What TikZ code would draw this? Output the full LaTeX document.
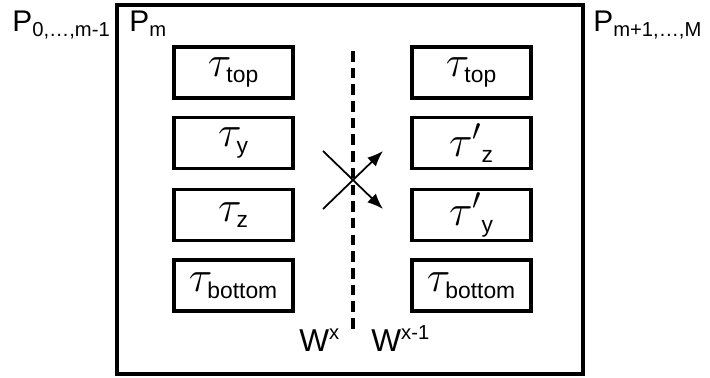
\documentclass[tikz,border=0pt]{standalone}
\usepackage{amsmath}
\usepackage{fontspec}
\setmainfont{Liberation Sans}
\usetikzlibrary{arrows.meta}

\tikzset{
  slot/.style={draw, line width=1.8pt, minimum width=2.38cm, minimum height=1.02cm, inner sep=0pt,
    font=\fontsize{24}{26}\selectfont},
  plab/.style={anchor=base west, inner sep=0pt, font=\fontsize{17}{18}\selectfont},
}
\newcommand{\sub}[1]{\text{\fontsize{13}{13}\selectfont #1}}
\newcommand{\sml}[1]{{\fontsize{11.5}{11.5}\selectfont #1}}

\begin{document}
\begin{tikzpicture}[x=0.02cm, y=-0.02cm]
    \useasboundingbox (0,0) rectangle (710,378);
    \draw[line width=1.8pt] (117,5) rectangle (583,374);

    \node[plab] (pleft) at (12,32) {P\textsubscript{\sml{0,\dots,m-1}}};
    \node[plab] (pm) at (129,32) {P\textsubscript{\sml{m}}};
    \node[plab] (pright) at (593,32) {P\textsubscript{\sml{m+1,\dots,M}}};

    % left column
    \node[slot] (ltop) at (233.5,72.5) {$\tau_{\sub{top}}$};
    \node[slot] (ly) at (233.5,143) {$\tau_{\sub{y}}$};
    \node[slot] (lz) at (233.5,215) {$\tau_{\sub{z}}$};
    \node[slot] (lbot) at (233.5,285.5) {$\tau_{\sub{bottom}}$};

    % right column
    \node[slot] (rtop) at (471.5,72.5) {$\tau_{\sub{top}}$};
    \node[slot] (rz) at (471.5,143) {${\tau'}_{\sub{z}}$};
    \node[slot] (ry) at (471.5,215) {${\tau'}_{\sub{y}}$};
    \node[slot] (rbot) at (471.5,285.5) {$\tau_{\sub{bottom}}$};

    % swap
    \coordinate (wtop) at (353,51);
    \coordinate (wbot) at (353,333);
    \draw[line width=2pt, dash pattern=on 6pt off 3.5pt] (wtop) -- (wbot);
    \coordinate (a1) at (323,151);
    \coordinate (a2) at (383,209);
    \coordinate (b1) at (323,209);
    \coordinate (b2) at (383,151);
    \draw[line width=1pt, -{Latex[length=9pt,width=7pt]}] (a1) -- (a2);
    \draw[line width=1pt, -{Latex[length=9pt,width=7pt]}] (b1) -- (b2);

    \node[plab, font=\fontsize{18}{18}\selectfont] (wl) at (299,351) {W\textsuperscript{\sml{x}}};
    \node[plab, font=\fontsize{18}{18}\selectfont] (wr) at (371,351) {W\textsuperscript{\sml{x-1}}};
\end{tikzpicture}
\end{document}
